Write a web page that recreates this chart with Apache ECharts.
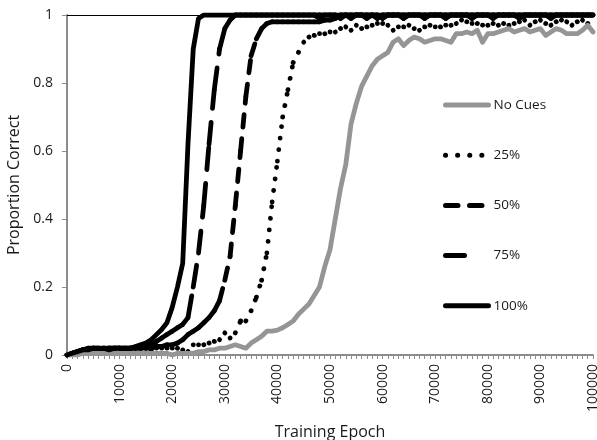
<!DOCTYPE html>
<html><head><meta charset="utf-8">
<script src="https://cdn.jsdelivr.net/npm/echarts@6/dist/echarts.min.js"></script>
<style>html,body{margin:0;padding:0;background:#fff}#c{width:597px;height:440px}</style>
</head><body><div id="c"></div>
<script>
// Categories: training epochs 0..100000 step 1000
var epochs = [];
for (var i = 0; i <= 100; i++) epochs.push(String(i * 1000));

var seriesNames = ['No Cues', '25%', '50%', '75%', '100%'];

var noCues = [0,0,0,0.005,0.005,0.005,0.005,0.005,0.005,0.005,
0.005,0.005,0.005,0.005,0.005,0.005,0.005,0.005,0.005,0.005,
0,0.005,0.005,0.005,0.005,0.01,0.01,0.015,0.015,0.02,
0.02,0.025,0.03,0.025,0.02,0.035,0.045,0.055,0.07,0.07,
0.073,0.08,0.09,0.1,0.12,0.135,0.15,0.175,0.2,0.26,
0.31,0.4,0.49,0.56,0.68,0.74,0.79,0.82,0.85,0.87,
0.88,0.89,0.92,0.93,0.91,0.925,0.935,0.93,0.92,0.925,
0.93,0.93,0.925,0.92,0.945,0.945,0.95,0.945,0.955,0.92,
0.945,0.945,0.95,0.955,0.96,0.95,0.955,0.96,0.95,0.955,
0.96,0.94,0.95,0.96,0.955,0.945,0.945,0.945,0.955,0.97,0.95];

var cue25 = [0,0.005,0.01,0.015,0.015,0.02,0.015,0.02,0.02,0.015,
0.02,0.02,0.015,0.02,0.02,0.02,0.015,0.02,0.02,0.02,
0.02,0.02,0.015,0.01,0.03,0.03,0.03,0.035,0.04,0.045,
0.065,0.05,0.065,0.1,0.1,0.13,0.17,0.22,0.3,0.45,
0.57,0.7,0.78,0.86,0.89,0.92,0.935,0.94,0.945,0.945,
0.95,0.95,0.96,0.965,0.955,0.97,0.96,0.965,0.97,0.975,
0.975,0.97,0.955,0.965,0.965,0.97,0.96,0.955,0.965,0.97,
0.965,0.965,0.97,0.97,0.975,0.985,0.98,0.975,0.975,0.97,
0.97,0.975,0.97,0.975,0.97,0.975,0.98,0.985,0.97,0.98,
0.985,0.975,0.97,0.98,0.985,0.98,0.97,0.98,0.985,0.975,0.97];

var cue50 = [0,0.005,0.01,0.015,0.015,0.02,0.02,0.015,0.02,0.02,
0.02,0.015,0.02,0.02,0.02,0.02,0.02,0.025,0.025,0.03,
0.03,0.035,0.045,0.06,0.07,0.08,0.095,0.11,0.13,0.16,
0.22,0.29,0.44,0.6,0.76,0.88,0.93,0.96,0.975,0.98,
0.98,0.98,0.98,0.98,0.98,0.98,0.98,0.98,0.98,0.985,
0.985,0.99,1,1,0.99,1,1,0.99,1,1,
0.99,1,1,1,0.99,1,1,1,0.99,1,
1,1,0.99,1,1,1,1,0.99,1,1,
1,0.99,1,1,1,1,0.99,1,1,1,
1,1,0.99,1,1,1,1,1,1,1,1];

var cue75 = [0,0.005,0.01,0.015,0.02,0.02,0.015,0.02,0.02,0.02,
0.02,0.02,0.02,0.02,0.02,0.024,0.03,0.04,0.05,0.06,
0.07,0.08,0.09,0.11,0.2,0.3,0.44,0.62,0.78,0.9,
0.96,0.985,1,1,1,1,1,1,1,1,
1,1,1,1,1,1,1,1,1,1,
1,1,0.99,1,1,1,1,1,1,0.99,
1,1,1,1,1,1,1,1,1,1,
1,1,1,1,1,1,1,1,1,1,
1,1,1,1,1,1,1,1,1,1,
1,1,1,1,1,1,1,1,1,1,1];

var cue100 = [0,0.005,0.01,0.015,0.015,0.02,0.02,0.02,0.015,0.02,
0.02,0.02,0.02,0.025,0.03,0.035,0.045,0.06,0.075,0.095,
0.14,0.2,0.27,0.62,0.9,0.99,1,1,1,1,
1,1,1,1,1,1,1,1,1,1,
1,1,1,1,1,1,1,1,0.99,1,
1,1,1,1,1,1,1,1,1,1,
1,1,1,1,1,1,1,1,1,1,
1,1,1,1,1,1,1,1,1,1,
1,1,1,1,1,1,1,1,1,1,
1,1,1,1,1,1,1,1,1,1,1];

var yTicks = ['0', '0.2', '0.4', '0.6', '0.8', '1'];

var font = '"Open Sans", "Liberation Sans", sans-serif';
var txt = '#1a1a1a';
var LW = 4.8;

var dash25 = [0.1, 11.5], dash50 = [12.5, 11.5], dash75 = [22, 14];

// solid line series
function solid(name, data, color) {
  return {
    name: name, type: 'line', data: data, symbol: 'none', showSymbol: false,
    lineStyle: { color: color, width: LW, cap: 'round', join: 'round' },
    itemStyle: { color: color }, animation: false
  };
}
// empty line series used only to give the legend its entry
function legendOnly(name, dash) {
  return {
    name: name, type: 'line', data: [], symbol: 'none',
    lineStyle: { color: '#000', width: LW, type: dash, cap: 'round' },
    itemStyle: { color: '#000' }, animation: false
  };
}
// dashed series drawn segment by segment so that the dash pattern restarts at each point
function segmented(name, arr, dash) {
  return {
    name: name + ' ', type: 'custom', xAxisIndex: 0, yAxisIndex: 0,
    data: arr.map(function (v, i) { return [i, v]; }),
    encode: { x: 0, y: 1 },
    animation: false, silent: true,
    renderItem: function (params, api) {
      var i = params.dataIndex;
      if (i >= arr.length - 1) return null;
      var p1 = api.coord([api.value(0), api.value(1)]);
      var p2 = api.coord([i + 1, arr[i + 1]]);
      return {
        type: 'line',
        shape: { x1: p1[0], y1: p1[1], x2: p2[0], y2: p2[1] },
        style: { stroke: '#000', lineWidth: LW, lineDash: dash, lineCap: 'round', fill: null }
      };
    }
  };
}

var chart = echarts.init(document.getElementById('c'), null, { renderer: 'canvas' });
chart.setOption({
  animation: false,
  backgroundColor: '#fff',
  grid: { left: 67, right: 4, top: 15, bottom: 85, containLabel: false, outerBoundsMode: 'none' },
  legend: {
    orient: 'vertical', left: 443, top: 98, padding: 0, itemWidth: 43, itemHeight: 14, itemGap: 36.2,
    itemStyle: { opacity: 0 },
    lineStyle: { width: 5, cap: 'round' },
    textStyle: { fontFamily: font, fontSize: 13.5, color: txt },
    data: [
      { name: seriesNames[0] },
      { name: seriesNames[1], lineStyle: { type: [0.1, 12], width: 5, cap: 'round' } },
      { name: seriesNames[2], lineStyle: { type: [12.5, 11.5], width: 5, cap: 'round' } },
      { name: seriesNames[3], lineStyle: { type: [19, 40], width: 5, cap: 'round' } },
      { name: seriesNames[4] }
    ]
  },
  xAxis: [{
    type: 'category', data: epochs, boundaryGap: false,
    name: 'Training Epoch', nameLocation: 'middle', nameGap: 69,
    nameTextStyle: { fontFamily: font, fontSize: 16, color: txt },
    axisLine: { lineStyle: { color: '#8c8c8c', width: 2 } },
    axisTick: { show: true, interval: 0, length: 4, lineStyle: { color: '#8c8c8c', width: 1 } },
    axisLabel: { interval: 9, rotate: 90, margin: 9, fontFamily: font, fontSize: 14, color: txt },
    splitLine: { show: false }
  }, {
    type: 'category', data: epochs, boundaryGap: false, position: 'top',
    axisLine: { show: true, lineStyle: { color: '#000', width: 1 } },
    axisTick: { show: false }, axisLabel: { show: false }, splitLine: { show: false }
  }],
  yAxis: {
    type: 'value', min: 0, max: 1, interval: 0.2,
    name: 'Proportion Correct', nameLocation: 'middle', nameGap: 43,
    nameTextStyle: { fontFamily: font, fontSize: 16, color: txt },
    axisLine: { show: true, lineStyle: { color: '#8c8c8c', width: 2 } },
    axisTick: { show: true, length: 5, lineStyle: { color: '#8c8c8c', width: 1 } },
    axisLabel: { margin: 14, fontFamily: font, fontSize: 14, color: txt,
      formatter: function (v) { return yTicks[Math.round(v / 0.2)]; } },
    splitLine: { show: false }
  },
  series: [
    solid(seriesNames[0], noCues, '#959595'),
    legendOnly(seriesNames[1], dash25),
    legendOnly(seriesNames[2], dash50),
    legendOnly(seriesNames[3], dash75),
    solid(seriesNames[4], cue100, '#000'),
    segmented(seriesNames[1], cue25, dash25),
    segmented(seriesNames[2], cue50, dash50),
    segmented(seriesNames[3], cue75, dash75)
  ]
});
</script>
</body></html>
